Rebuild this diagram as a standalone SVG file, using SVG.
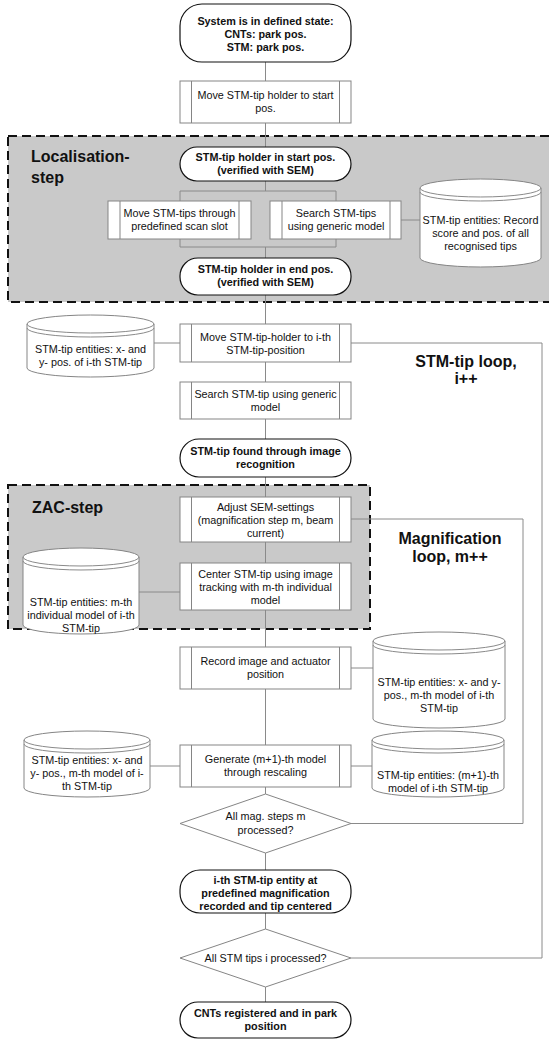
<svg xmlns="http://www.w3.org/2000/svg" width="549" height="1040" viewBox="0 0 549 1040">
<style>
.bg{fill:#ffffff}
.zone{fill:#c9c9c9;stroke:#111;stroke-width:2;stroke-dasharray:9 5}
.proc{fill:#fff;stroke:#858585;stroke-width:1}
.term{fill:#fff;stroke:#111;stroke-width:1.2}
.cyl{fill:#fff;stroke:#858585;stroke-width:1}
.dec{fill:#fff;stroke:#858585;stroke-width:1}
.conn{fill:none;stroke:#8a8a8a;stroke-width:1}
.t{font-family:"Liberation Sans",Arial,sans-serif;font-size:10.8px;fill:#111;text-anchor:middle}
.b{font-family:"Liberation Sans",Arial,sans-serif;font-size:10.8px;font-weight:bold;fill:#111;text-anchor:middle}
.big{font-family:"Liberation Sans",Arial,sans-serif;font-size:16px;font-weight:bold;fill:#111}
</style>
<rect class="bg" x="0" y="0" width="549" height="1040"/>

<g id="zone-localisation">
<rect class="zone" x="8" y="136" width="560" height="166"/>
<text class="big" x="31" y="162">Localisation-</text>
<text class="big" x="31" y="183">step</text>
</g>
<g id="zone-zac">
<rect class="zone" x="8" y="485" width="362" height="144"/>
<text class="big" x="32" y="513">ZAC-step</text>
</g>

<g id="connectors">
<path class="conn" d="M265.5,62 V81 M265.5,123 V147 M265.5,181 V191 M180,201 V191 H336 V201 M180,239 V247 H336 V239 M265.5,247 V258 M401,220 H420 M265.5,295 V324 M154,343 H180 M265.5,362 V382 M265.5,419 V439 M265.5,477 V497 M265.5,542 V563 M139,592 H180 M265.5,610 V647 M351,668 H373 M265.5,689 V745 M150,766 H180 M351,766 H372 M265.5,787 V794 M265.5,853 V870 M265.5,913 V929 M265.5,987 V1002"/>
<path class="conn" d="M351,343 H542 V958 H351"/>
<path class="conn" d="M351,519 H523 V823.5 H351"/>
</g>

<g id="label-stm-loop">
<text class="big" x="466" y="367" text-anchor="middle">STM-tip loop,</text>
<text class="big" x="466" y="384" text-anchor="middle">i++</text>
</g>
<g id="label-mag-loop">
<text class="big" x="450" y="544" text-anchor="middle">Magnification</text>
<text class="big" x="450" y="562" text-anchor="middle">loop, m++</text>
</g>

<g id="n-start">
<rect class="term" x="180" y="4" width="171" height="58" rx="22" ry="22"/>
<text class="b" x="265.5" y="25">System is in defined state:</text>
<text class="b" x="265.5" y="38">CNTs: park pos.</text>
<text class="b" x="265.5" y="51">STM: park pos.</text>
</g>

<g id="n-move-start">
<rect class="proc" x="180" y="81" width="171" height="42"/>
<path class="proc" d="M191.5,81 V123 M339.5,81 V123"/>
<text class="t" x="265.5" y="99">Move STM-tip holder to start</text>
<text class="t" x="265.5" y="112">pos.</text>
</g>

<g id="n-holder-start">
<rect class="term" x="180" y="147" width="171" height="34" rx="17" ry="17"/>
<text class="b" x="265.5" y="161">STM-tip holder in start pos.</text>
<text class="b" x="265.5" y="174">(verified with SEM)</text>
</g>

<g id="n-move-scan">
<rect class="proc" x="108" y="201" width="143" height="38"/>
<path class="proc" d="M120,201 V239 M239,201 V239"/>
<text class="t" x="179.5" y="217">Move STM-tips through</text>
<text class="t" x="179.5" y="230">predefined scan slot</text>
</g>

<g id="n-search-tips">
<rect class="proc" x="270" y="201" width="131" height="38"/>
<path class="proc" d="M282,201 V239 M390,201 V239"/>
<text class="t" x="336" y="217">Search STM-tips</text>
<text class="t" x="336" y="230">using generic model</text>
</g>

<g id="n-db-record">
<path class="cyl" d="M420,188 A60.5,9 0 0 1 541,188 V258 A60.5,9 0 0 1 420,258 Z"/>
<path class="conn" d="M420,188 A60.5,9 0 0 0 541,188 M420,192 A60.5,9 0 0 0 541,192"/>
<text class="t" x="480.5" y="224">STM-tip entities: Record</text>
<text class="t" x="480.5" y="237">score and pos. of all</text>
<text class="t" x="480.5" y="250">recognised tips</text>
</g>

<g id="n-holder-end">
<rect class="term" x="180" y="258" width="171" height="37" rx="18" ry="18"/>
<text class="b" x="265.5" y="273">STM-tip holder in end pos.</text>
<text class="b" x="265.5" y="286">(verified with SEM)</text>
</g>

<g id="n-db-xy">
<path class="cyl" d="M27,324 A63.5,9 0 0 1 154,324 V368 A63.5,9 0 0 1 27,368 Z"/>
<path class="conn" d="M27,324 A63.5,9 0 0 0 154,324 M27,328 A63.5,9 0 0 0 154,328"/>
<text class="t" x="90.5" y="353">STM-tip entities: x- and</text>
<text class="t" x="90.5" y="366">y- pos. of i-th STM-tip</text>
</g>

<g id="n-move-ith">
<rect class="proc" x="180" y="324" width="171" height="38"/>
<path class="proc" d="M191.5,324 V362 M339.5,324 V362"/>
<text class="t" x="265.5" y="341">Move STM-tip-holder to i-th</text>
<text class="t" x="265.5" y="354">STM-tip-position</text>
</g>

<g id="n-search-tip">
<rect class="proc" x="180" y="382" width="171" height="37"/>
<path class="proc" d="M191.5,382 V419 M339.5,382 V419"/>
<text class="t" x="265.5" y="398">Search STM-tip using generic</text>
<text class="t" x="265.5" y="411">model</text>
</g>

<g id="n-found">
<rect class="term" x="180" y="439" width="171" height="38" rx="19" ry="19"/>
<text class="b" x="265.5" y="455">STM-tip found through image</text>
<text class="b" x="265.5" y="468">recognition</text>
</g>

<g id="n-adjust">
<rect class="proc" x="180" y="497" width="171" height="45"/>
<path class="proc" d="M191.5,497 V542 M339.5,497 V542"/>
<text class="t" x="265.5" y="511">Adjust SEM-settings</text>
<text class="t" x="265.5" y="524">(magnification step m, beam</text>
<text class="t" x="265.5" y="537">current)</text>
</g>

<g id="n-db-model">
<path class="cyl" d="M23,557 A58,9 0 0 1 139,557 V625 A58,9 0 0 1 23,625 Z"/>
<path class="conn" d="M23,557 A58,9 0 0 0 139,557 M23,561 A58,9 0 0 0 139,561"/>
<text class="t" x="81" y="606">STM-tip entities: m-th</text>
<text class="t" x="81" y="619">individual model of i-th</text>
<text class="t" x="81" y="632">STM-tip</text>
</g>

<g id="n-center">
<rect class="proc" x="180" y="563" width="171" height="47"/>
<path class="proc" d="M191.5,563 V610 M339.5,563 V610"/>
<text class="t" x="265.5" y="578">Center STM-tip using image</text>
<text class="t" x="265.5" y="591">tracking with m-th individual</text>
<text class="t" x="265.5" y="604">model</text>
</g>

<g id="n-record">
<rect class="proc" x="180" y="647" width="171" height="42"/>
<path class="proc" d="M191.5,647 V689 M339.5,647 V689"/>
<text class="t" x="265.5" y="665">Record image and actuator</text>
<text class="t" x="265.5" y="678">position</text>
</g>

<g id="n-db-xy-model">
<path class="cyl" d="M373,641 A66,9 0 0 1 505,641 V719 A66,9 0 0 1 373,719 Z"/>
<path class="conn" d="M373,641 A66,9 0 0 0 505,641 M373,645 A66,9 0 0 0 505,645"/>
<text class="t" x="439" y="686">STM-tip entities: x- and y-</text>
<text class="t" x="439" y="699">pos., m-th model of i-th</text>
<text class="t" x="439" y="712">STM-tip</text>
</g>

<g id="n-db-xy-model-2">
<path class="cyl" d="M24,740 A63,9 0 0 1 150,740 V788 A63,9 0 0 1 24,788 Z"/>
<path class="conn" d="M24,740 A63,9 0 0 0 150,740 M24,744 A63,9 0 0 0 150,744"/>
<text class="t" x="87" y="764">STM-tip entities: x- and</text>
<text class="t" x="87" y="777">y- pos., m-th model of i-</text>
<text class="t" x="87" y="790">th STM-tip</text>
</g>

<g id="n-generate">
<rect class="proc" x="180" y="745" width="171" height="42"/>
<path class="proc" d="M191.5,745 V787 M339.5,745 V787"/>
<text class="t" x="265.5" y="763">Generate (m+1)-th model</text>
<text class="t" x="265.5" y="776">through rescaling</text>
</g>

<g id="n-db-next-model">
<path class="cyl" d="M372,740 A66,9 0 0 1 504,740 V788 A66,9 0 0 1 372,788 Z"/>
<path class="conn" d="M372,740 A66,9 0 0 0 504,740 M372,744 A66,9 0 0 0 504,744"/>
<text class="t" x="438" y="779">STM-tip entities: (m+1)-th</text>
<text class="t" x="438" y="792">model of i-th STM-tip</text>
</g>

<g id="n-dec-mag">
<path class="dec" d="M180,823.5 L265.5,794 L351,823.5 L265.5,853 Z"/>
<text class="t" x="265.5" y="820">All mag. steps m</text>
<text class="t" x="265.5" y="834">processed?</text>
</g>

<g id="n-ith-done">
<rect class="term" x="180" y="870" width="171" height="43" rx="20" ry="20"/>
<text class="b" x="265.5" y="884">i-th STM-tip entity at</text>
<text class="b" x="265.5" y="897">predefined magnification</text>
<text class="b" x="265.5" y="910">recorded and tip centered</text>
</g>

<g id="n-dec-tips">
<path class="dec" d="M180,958 L265.5,929 L351,958 L265.5,987 Z"/>
<text class="t" x="265.5" y="962">All STM tips i processed?</text>
</g>

<g id="n-end">
<rect class="term" x="180" y="1002" width="171" height="36" rx="18" ry="18"/>
<text class="b" x="265.5" y="1017">CNTs registered and in park</text>
<text class="b" x="265.5" y="1030">position</text>
</g>
</svg>
